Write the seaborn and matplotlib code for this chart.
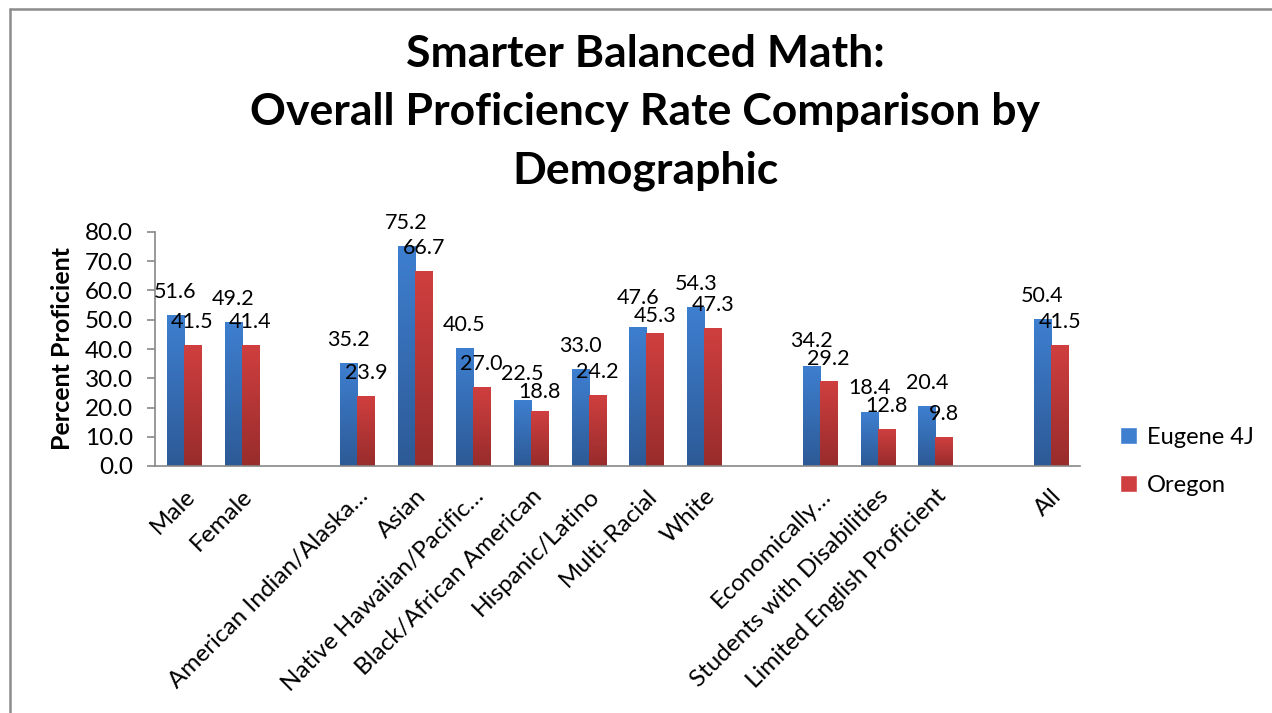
import numpy as np
import pandas as pd
import seaborn as sns
import matplotlib.pyplot as plt
from matplotlib.lines import Line2D
from matplotlib.colors import LinearSegmentedColormap

categories = [
    "Male", "Female", "", "American Indian/Alaska…", "Asian",
    "Native Hawaiian/Pacific…", "Black/African American", "Hispanic/Latino",
    "Multi-Racial", "White", " ", "Economically…",
    "Students with Disabilities", "Limited English Proficient", "  ", "All",
]
groups = [c for c in categories if c.strip()]
eugene = [51.6, 49.2, 35.2, 75.2, 40.5, 22.5, 33.0, 47.6, 54.3, 34.2, 18.4, 20.4, 50.4]
oregon = [41.5, 41.4, 23.9, 66.7, 27.0, 18.8, 24.2, 45.3, 47.3, 29.2, 12.8, 9.8, 41.5]
series = ["Eugene 4J", "Oregon"]
yticks = [0, 10, 20, 30, 40, 50, 60, 70, 80]

df = pd.DataFrame({
    "Group": groups * 2,
    "Series": [series[0]] * len(groups) + [series[1]] * len(groups),
    "Value": eugene + oregon,
})

sns.set_style("white")
plt.rcParams["font.family"] = ["Lato", "DejaVu Sans"]
plt.rcParams["text.color"] = "black"
plt.rcParams["axes.labelcolor"] = "black"
plt.rcParams["xtick.labelcolor"] = "black"
plt.rcParams["ytick.labelcolor"] = "black"

fig = plt.figure(figsize=(12.72, 7.13), dpi=100)
ax = fig.add_axes([155 / 1272, 1 - 466 / 713, (1080 - 155) / 1272, (466 - 232) / 713])

palette = {"Eugene 4J": "#3668B0", "Oregon": "#B93737"}
sns.barplot(
    data=df, x="Group", y="Value", hue="Series", order=categories,
    hue_order=series, palette=palette, width=0.59, saturation=1,
    ax=ax, errorbar=None,
)

ax.set_ylim(0, 80)
ax.set_xlim(-0.5, len(categories) - 0.5)

# Excel-like vertical gradient fill on each bar
gradients = {
    "Eugene 4J": ("#2D5A96", "#3E7FD0"),
    "Oregon": ("#982C2C", "#D03F3F"),
}
grad = np.linspace(0, 1, 256).reshape(-1, 1)
for cont, name in zip(ax.containers, series):
    cmap = LinearSegmentedColormap.from_list(name, gradients[name])
    for bar in cont:
        x0, w, h = bar.get_x(), bar.get_width(), bar.get_height()
        im = ax.imshow(grad, cmap=cmap, aspect="auto", origin="lower",
                       extent=[x0, x0 + w, 0, h], zorder=bar.get_zorder() + 0.1)
        im.set_clip_path(bar)

# value labels above bars, pushed apart a little when a pair would collide
px_per_unit = ax.get_window_extent().height / 80
px_to_pt = 72 / fig.dpi
base, min_sep = 23, 18
for b_bar, r_bar in zip(ax.containers[0], ax.containers[1]):
    hb, hr = b_bar.get_height(), r_bar.get_height()
    yb, yr = hb * px_per_unit + base, hr * px_per_unit + base
    if abs(yb - yr) < min_sep:
        mid = (yb + yr) / 2
        hi, lo = mid + min_sep / 2, mid - min_sep / 2
        yb, yr = (hi, lo) if hb >= hr else (lo, hi)
    for bar, ypx in ((b_bar, yb), (r_bar, yr)):
        h = bar.get_height()
        ax.annotate(f"{h:.1f}", xy=(bar.get_x() + bar.get_width() / 2, h),
                    xytext=(0, (ypx - h * px_per_unit) * px_to_pt),
                    textcoords="offset points", ha="center", va="center",
                    fontsize=15.5, zorder=5)

ax.set_yticks(yticks)
ax.set_yticklabels([f"{v:.1f}" for v in yticks], fontsize=17.5)
ax.set_ylabel("Percent Proficient", fontsize=18, fontweight="bold", labelpad=8)
ax.set_xlabel("")

# category labels centered, tick marks between categories
ax.set_xticks(range(len(categories)))
ax.set_xticklabels(categories, rotation=45, ha="right", rotation_mode="anchor", fontsize=17.5)
ax.tick_params(axis="x", which="major", length=0, pad=14)
ax.set_xticks([i - 0.5 for i in range(len(categories) + 1)], minor=True)
ax.tick_params(axis="x", which="minor", length=6, color="#888888", width=1.2)
ax.tick_params(axis="y", length=6, color="#888888", width=1.2, left=True, pad=10)

for s in ["top", "right"]:
    ax.spines[s].set_visible(False)
for s in ["left", "bottom"]:
    ax.spines[s].set_color("#888888")
    ax.spines[s].set_linewidth(1.2)

leg = ax.legend(
    loc="center left", bbox_to_anchor=(1.02, 0.02), frameon=False,
    fontsize=17, handlelength=0.75, handleheight=0.75, labelspacing=1.15,
    handletextpad=0.4,
)
for h, name in zip(leg.legend_handles, series):
    h.set_facecolor(gradients[name][1])

fig.suptitle(
    "Smarter Balanced Math:\nOverall Proficiency Rate Comparison by\nDemographic",
    x=645 / 1272, y=1 - 34 / 713, fontsize=32, fontweight="bold", linespacing=1.56,
)

# chart border (cropped frame)
fig.add_artist(Line2D([10 / 1272, 1.0], [1 - 9 / 713, 1 - 9 / 713], color="#8c8c8c", lw=1.8))
fig.add_artist(Line2D([10 / 1272, 10 / 1272], [0.0, 1 - 9 / 713], color="#8c8c8c", lw=1.8))

fig.savefig("out.png", dpi=100)
